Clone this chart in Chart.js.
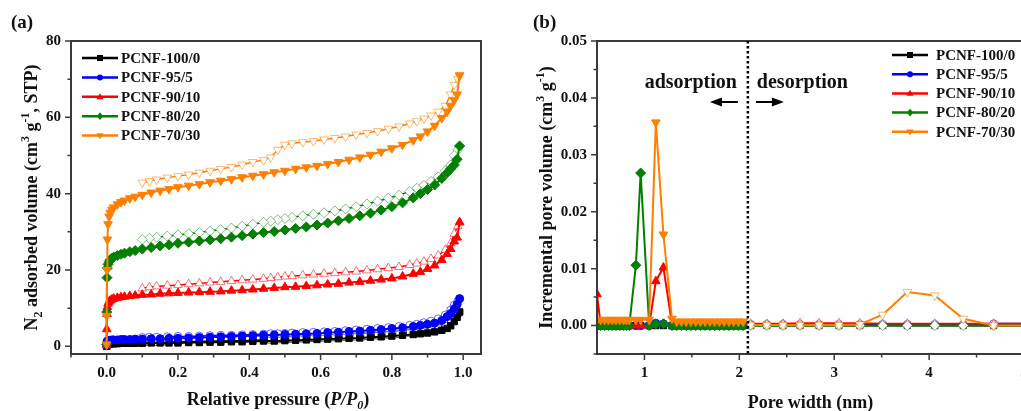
<!DOCTYPE html>
<html>
<head>
<meta charset="utf-8">
<script src="https://cdn.jsdelivr.net/npm/chart.js@4.4.0/dist/chart.umd.min.js"></script>
<style>
  html, body { margin: 0; padding: 0; background: #fff; overflow: hidden; }
  #wrap { position: relative; width: 1021px; height: 411px; overflow: hidden; }
  #ca { position: absolute; left: 0; top: 0; }
  #cb { position: absolute; left: 500px; top: 0; }
</style>
</head>
<body>
<div id="wrap">
  <canvas id="ca" width="500" height="411"></canvas>
  <canvas id="cb" width="540" height="411"></canvas>
</div>
<script>
// sample names / colours
const names = ['PCNF-100/0', 'PCNF-95/5', 'PCNF-90/10', 'PCNF-80/20', 'PCNF-70/30'];
const colors = ['#000000', '#0000ff', '#ff0000', '#008000', '#ff7f00'];
const paleColors = ['rgba(0,0,0,0.7)', 'rgba(0,0,255,0.6)', 'rgba(255,0,0,0.55)', 'rgba(0,128,0,0.5)', 'rgba(255,127,0,0.55)'];
const shapes = ['rect', 'circle', 'triangle', 'rectRot', 'triangle'];
const rotations = [0, 0, 0, 0, 180];
const radii = [4.5, 4, 5, 5, 5];

// (a) N2 isotherms - adsorption branch
const presAds = [0, 0.0003, 0.001, 0.002, 0.004, 0.007, 0.01, 0.015, 0.02, 0.03, 0.04, 0.05, 0.065, 0.08, 0.1, 0.125, 0.15, 0.175, 0.2, 0.23, 0.26, 0.29, 0.32, 0.35, 0.38, 0.41, 0.44, 0.47, 0.5, 0.53, 0.56, 0.59, 0.62, 0.65, 0.68, 0.71, 0.74, 0.77, 0.8, 0.83, 0.86, 0.88, 0.9, 0.92, 0.94, 0.955, 0.965, 0.975, 0.983, 0.99];
const ads100 = [0, 0.2, 0.4, 0.5, 0.6, 0.6, 0.7, 0.7, 0.7, 0.7, 0.8, 0.8, 0.8, 0.8, 0.8, 0.9, 0.9, 0.9, 0.9, 1.0, 1.0, 1.1, 1.1, 1.2, 1.2, 1.3, 1.4, 1.4, 1.5, 1.6, 1.7, 1.8, 1.9, 2.0, 2.1, 2.2, 2.4, 2.5, 2.7, 2.9, 3.1, 3.3, 3.5, 3.8, 4.2, 4.7, 5.4, 6.5, 7.6, 9.0];
const ads95 = [0.2, 0.8, 1.2, 1.4, 1.5, 1.6, 1.6, 1.7, 1.7, 1.7, 1.8, 1.8, 1.8, 1.9, 1.9, 2.0, 2.0, 2.1, 2.1, 2.2, 2.3, 2.4, 2.5, 2.6, 2.7, 2.8, 2.9, 3.0, 3.1, 3.2, 3.3, 3.4, 3.6, 3.7, 3.9, 4.0, 4.2, 4.4, 4.7, 4.9, 5.2, 5.5, 5.8, 6.1, 6.8, 7.8, 8.6, 9.8, 11.0, 12.5];
const ads90 = [0.3, 4.5, 8.5, 10.3, 11.2, 11.7, 12.0, 12.3, 12.5, 12.7, 12.9, 13.0, 13.2, 13.3, 13.5, 13.6, 13.8, 13.9, 14.0, 14.1, 14.2, 14.3, 14.4, 14.6, 14.7, 14.9, 15.1, 15.3, 15.5, 15.6, 15.8, 16.0, 16.2, 16.4, 16.7, 16.9, 17.2, 17.5, 17.8, 18.3, 19.0, 19.5, 20.3, 21.2, 22.6, 24.2, 25.5, 27.5, 28.5, 32.5];
const ads80 = [0.5, 9, 18, 20.5, 21.5, 22.2, 22.7, 23.1, 23.4, 23.8, 24.1, 24.4, 24.8, 25.1, 25.5, 25.9, 26.3, 26.6, 27.0, 27.3, 27.6, 27.9, 28.2, 28.6, 29.0, 29.4, 29.8, 30.1, 30.5, 30.9, 31.3, 31.8, 32.3, 32.9, 33.5, 34.2, 34.9, 35.7, 36.6, 37.6, 38.9, 40.0, 41.1, 42.3, 44.0, 45.5, 46.5, 47.5, 49.0, 52.5];
const ads70 = [0.5, 8, 20, 28, 32, 34, 35, 35.8, 36.4, 37.2, 37.8, 38.2, 38.8, 39.2, 39.7, 40.3, 40.8, 41.2, 41.7, 42.1, 42.5, 43.0, 43.4, 43.8, 44.3, 44.7, 45.1, 45.6, 46.0, 46.5, 46.9, 47.3, 47.8, 48.3, 48.9, 49.5, 50.2, 51.0, 51.9, 52.8, 54.0, 55.0, 56.3, 57.8, 59.8, 61.5, 63.0, 64.5, 66.0, 71.0];

// (a) desorption branch
const presDes = [0.99, 0.985, 0.975, 0.965, 0.95, 0.93, 0.91, 0.89, 0.87, 0.85, 0.82, 0.79, 0.76, 0.73, 0.7, 0.67, 0.64, 0.61, 0.58, 0.55, 0.52, 0.5, 0.48, 0.46, 0.44, 0.41, 0.38, 0.35, 0.32, 0.29, 0.26, 0.23, 0.2, 0.17, 0.14, 0.12, 0.1];
const des100 = [9, 8.5, 7.5, 6.5, 5.5, 4.8, 4.3, 4.0, 3.7, 3.5, 3.2, 3.0, 2.8, 2.6, 2.5, 2.4, 2.3, 2.2, 2.1, 2.0, 1.9, 1.8, 1.8, 1.7, 1.7, 1.6, 1.5, 1.5, 1.4, 1.4, 1.3, 1.3, 1.2, 1.2, 1.1, 1.1, 1.0];
const des95 = [12.5, 11.8, 10.8, 9.5, 8.2, 7.2, 6.6, 6.2, 5.8, 5.5, 5.2, 4.9, 4.7, 4.5, 4.3, 4.1, 3.9, 3.8, 3.7, 3.6, 3.5, 3.4, 3.3, 3.3, 3.2, 3.1, 3.0, 2.9, 2.9, 2.8, 2.7, 2.6, 2.6, 2.5, 2.4, 2.4, 2.3];
const des90 = [32.5, 31.5, 29.5, 27, 25.3, 23.8, 22.9, 22.2, 21.7, 21.3, 20.8, 20.5, 20.2, 19.9, 19.6, 19.4, 19.2, 19, 18.8, 18.6, 18.4, 18.3, 18.1, 17.9, 17.7, 17.5, 17.3, 17.1, 16.9, 16.7, 16.5, 16.3, 16.1, 15.9, 15.7, 15.5, 15.2];
const des80 = [52.5, 51.5, 50, 47.5, 46, 44.4, 43.2, 42.2, 41.4, 40.6, 39.6, 38.8, 38, 37.3, 36.6, 36, 35.5, 35, 34.6, 34.2, 33.8, 33.5, 33.2, 32.8, 32.5, 32, 31.5, 31, 30.6, 30.2, 29.8, 29.5, 29.2, 28.9, 28.6, 28.3, 28];
const des70 = [71, 70, 68.5, 66, 63, 61.5, 60.5, 59.7, 59, 58.4, 57.6, 57, 56.4, 55.9, 55.5, 55, 54.6, 54.2, 53.8, 53.5, 53.2, 52.8, 51.5, 49.5, 48.8, 48.3, 47.6, 47, 46.5, 46, 45.5, 45, 44.6, 44.2, 43.7, 43.3, 42.9];

// (b) pore size distribution - adsorption side
const poreAds = [0.5, 0.54, 0.58, 0.62, 0.66, 0.7, 0.74, 0.78, 0.81, 0.84, 0.91, 0.96, 1.05, 1.12, 1.2, 1.29, 1.34, 1.39, 1.44, 1.49, 1.54, 1.59, 1.64, 1.69, 1.74, 1.79, 1.84, 1.89, 1.94, 1.99, 2.04];
const psd100A = [0, 0, 0, 0, 0, 0, 0, 0, 0, 0, 0, 0, 0, 0, 0, 0, 0, 0, 0, 0, 0, 0, 0, 0, 0, 0, 0, 0, 0, 0, 0];
const psd95A = [0, 0, 0, 0, 0, 0, 0, 0, 0, 0, 0, 0, 0, 0.0004, 0.0003, 0, 0, 0, 0, 0, 0, 0, 0, 0, 0, 0, 0, 0, 0, 0, 0];
const psd90A = [0.0055, 0, 0, 0, 0, 0, 0, 0, 0, 0, 0, 0, 0, 0.0078, 0.0102, 0.0003, 0.0002, 0.0002, 0.0002, 0.0002, 0.0002, 0.0002, 0.0002, 0.0002, 0.0002, 0.0002, 0.0002, 0.0002, 0.0002, 0.0002, 0.0002];
const psd80A = [0, 0, 0, 0, 0, 0, 0, 0, 0, 0, 0.0106, 0.0268, 0, 0.0003, 0.0003, 0, 0, 0, 0, 0, 0, 0, 0, 0, 0, 0, 0, 0, 0, 0, 0];
const psd70A = [0.001, 0.001, 0.001, 0.001, 0.001, 0.001, 0.001, 0.001, 0.001, 0.001, 0.001, 0.001, 0.001, 0.0357, 0.016, 0.0012, 0.0007, 0.0007, 0.0007, 0.0007, 0.0007, 0.0007, 0.0007, 0.0007, 0.0007, 0.0007, 0.0007, 0.0007, 0.0007, 0.0007, 0.0007];

// (b) desorption side
const poreDes = [2.12, 2.29, 2.46, 2.64, 2.84, 3.05, 3.27, 3.51, 3.77, 4.06, 4.36, 4.68, 5.02];
const psd100D = [0, 0, 0, 0, 0, 0, 0, 0, 0, 0, 0, 0, 0];
const psd95D = [0.0002, 0.0002, 0.0002, 0.0002, 0.0002, 0.0002, 0.0002, 0.0002, 0.0002, 0.0002, 0.0002, 0.0003, 0.0003];
const psd90D = [0.0003, 0.0003, 0.0003, 0.0004, 0.0004, 0.0004, 0.0004, 0.0003, 0.0003, 0.0003, 0.0003, 0.0003, 0.0003];
const psd80D = [0, 0, 0, 0, 0, 0, 0, 0, 0, 0, 0, 0, 0];
const psd70D = [0.0001, 0.0001, 0.0001, 0.0001, 0.0001, 0.0001, 0.0002, 0.0019, 0.0059, 0.0053, 0.0012, 0, 0];

// ticks
const xTicksA = [0, 0.2, 0.4, 0.6, 0.8, 1.0];
const xMinorA = [-0.1, 0.1, 0.3, 0.5, 0.7, 0.9];
const yTicksA = [0, 20, 40, 60, 80];
const yMinorA = [10, 30, 50, 70];
const xTicksB = [1, 2, 3, 4, 5];
const xMinorB = [1.5, 2.5, 3.5, 4.5];
const yTicksB = [0, 0.01, 0.02, 0.03, 0.04, 0.05];
const yMinorB = [-0.005, 0.005, 0.015, 0.025, 0.035, 0.045];
const dividerX = 2.09;

const serif = '"Liberation Serif", "Times New Roman", serif';
const fnt = (size, style) => (style || 'bold') + ' ' + size + 'px ' + serif;

function pts(xs, ys) {
  return xs.map((x, i) => ({ x: x, y: ys[i] }));
}

function buildSets(adsX, adsY, desX, desY, desLw) {
  const sets = [];
  for (let i = 0; i < names.length; i++) {
    sets.push({
      label: names[i],
      data: pts(adsX, adsY[i]),
      showLine: true,
      borderColor: colors[i],
      backgroundColor: colors[i],
      borderWidth: 2,
      pointStyle: shapes[i],
      pointRotation: rotations[i],
      pointRadius: radii[i],
      pointBackgroundColor: colors[i],
      pointBorderColor: colors[i],
      pointBorderWidth: 1,
      order: (names.length - i) * 2 - 1
    });
    sets.push({
      label: names[i] + ' des',
      data: pts(desX, desY[i]),
      showLine: true,
      borderColor: colors[i],
      backgroundColor: '#ffffff',
      borderWidth: desLw,
      pointStyle: shapes[i],
      pointRotation: rotations[i],
      pointRadius: radii[i],
      pointBackgroundColor: '#ffffff',
      pointBorderColor: paleColors[i],
      pointBorderWidth: 1,
      order: (names.length - i) * 2
    });
  }
  return sets;
}

function drawMarker(ctx, i, x, y, r) {
  ctx.beginPath();
  const s = shapes[i];
  if (s === 'rect') {
    ctx.rect(x - r, y - r, 2 * r, 2 * r);
  } else if (s === 'circle') {
    ctx.arc(x, y, r, 0, Math.PI * 2);
  } else if (s === 'rectRot') {
    ctx.moveTo(x, y - r * 1.3); ctx.lineTo(x + r * 1.1, y); ctx.lineTo(x, y + r * 1.3); ctx.lineTo(x - r * 1.1, y);
    ctx.closePath();
  } else if (rotations[i] === 180) {
    ctx.moveTo(x - r * 1.2, y - r * 0.8); ctx.lineTo(x + r * 1.2, y - r * 0.8); ctx.lineTo(x, y + r * 1.2);
    ctx.closePath();
  } else {
    ctx.moveTo(x - r * 1.2, y + r * 0.8); ctx.lineTo(x + r * 1.2, y + r * 0.8); ctx.lineTo(x, y - r * 1.2);
    ctx.closePath();
  }
  ctx.fillStyle = colors[i];
  ctx.fill();
}

// rich text: parts = [text, size, style, dy]
function richText(ctx, parts, x, y, rot) {
  ctx.save();
  ctx.translate(x, y);
  ctx.rotate(rot);
  ctx.textAlign = 'left';
  ctx.textBaseline = 'alphabetic';
  ctx.fillStyle = '#111';
  let total = 0;
  parts.forEach(p => { ctx.font = fnt(p[1], p[2]); total += ctx.measureText(p[0]).width; });
  let cx = -total / 2;
  parts.forEach(p => {
    ctx.font = fnt(p[1], p[2]);
    ctx.fillText(p[0], cx, p[3]);
    cx += ctx.measureText(p[0]).width;
  });
  ctx.restore();
}

function decoPlugin(cfg) {
  return {
    id: 'deco',
    afterDraw(chart) {
      const ctx = chart.ctx, a = chart.chartArea;
      const xs = chart.scales.x, ys = chart.scales.y;
      ctx.save();
      // frame
      ctx.strokeStyle = '#3a3a3a';
      ctx.lineWidth = 2;
      ctx.strokeRect(a.left, a.top, a.right - a.left, a.bottom - a.top);
      // tick marks, outward
      ctx.lineWidth = 1.5;
      ctx.beginPath();
      const tx = (vals, len) => vals.forEach(v => {
        const p = xs.getPixelForValue(v);
        ctx.moveTo(p, a.bottom); ctx.lineTo(p, a.bottom + len);
      });
      const ty = (vals, len) => vals.forEach(v => {
        const p = ys.getPixelForValue(v);
        ctx.moveTo(a.left, p); ctx.lineTo(a.left - len, p);
      });
      tx(cfg.xMajor, 6); tx(cfg.xMinor, 3.5);
      ty(cfg.yMajor, 6); ty(cfg.yMinor, 3.5);
      ctx.stroke();

      // panel label
      ctx.fillStyle = '#111';
      ctx.font = fnt(19);
      ctx.textAlign = 'left';
      ctx.textBaseline = 'alphabetic';
      ctx.fillText(cfg.panel[0], cfg.panel[1], cfg.panel[2]);

      // axis titles
      richText(ctx, cfg.xTitle, (a.left + Math.min(a.right, chart.width)) / 2 + cfg.xTitleShift, cfg.xTitleY, 0);
      richText(ctx, cfg.yTitle, cfg.yTitleX, (a.top + a.bottom) / 2, -Math.PI / 2);

      // legend
      const L = cfg.legend;
      for (let i = 0; i < names.length; i++) {
        const y = L.y + i * L.dy;
        ctx.strokeStyle = colors[i];
        ctx.lineWidth = 2.5;
        ctx.beginPath();
        ctx.moveTo(L.x, y); ctx.lineTo(L.x + L.len, y);
        ctx.stroke();
        drawMarker(ctx, i, L.x + L.len / 2, y, 3);
        ctx.fillStyle = '#111';
        ctx.font = fnt(15);
        ctx.textBaseline = 'middle';
        ctx.fillText(names[i], L.x + L.len + L.gap, y + 1);
      }
      if (cfg.extra) cfg.extra(ctx, chart);
      ctx.restore();
    }
  };
}

function axisOpts(min, max, ticks, fmt, isX, size) {
  return {
    type: 'linear',
    min: min,
    max: max,
    afterBuildTicks: s => { s.ticks = ticks.map(v => ({ value: v })); },
    afterFit: s => { if (isX) s.height = size; else s.width = size; },
    grid: { display: false, drawTicks: false },
    border: { display: false },
    ticks: {
      autoSkip: false,
      maxRotation: 0,
      padding: 10,
      color: '#111',
      font: { family: serif, size: 15, weight: 'bold' },
      callback: fmt
    }
  };
}

const baseOpts = {
  responsive: false,
  animation: false,
  events: [],
  plugins: { legend: { display: false }, tooltip: { enabled: false } }
};

// chart (a)
new Chart(document.getElementById('ca'), {
  type: 'scatter',
  data: { datasets: buildSets(presAds, [ads100, ads95, ads90, ads80, ads70], presDes, [des100, des95, des90, des80, des70], 1.5) },
  options: Object.assign({}, baseOpts, {
    layout: { padding: { left: 0, top: 41, right: 19, bottom: 0 } },
    scales: {
      x: axisOpts(-0.1, 1.05, xTicksA, v => v.toFixed(1), true, 57),
      y: axisOpts(-2, 80, yTicksA, v => String(v), false, 71)
    }
  }),
  plugins: [decoPlugin({
    xMajor: xTicksA, xMinor: xMinorA, yMajor: yTicksA, yMinor: yMinorA,
    panel: ['(a)', 11, 28],
    xTitle: [['Relative pressure (', 18], ['P/P', 18, 'italic bold', 0], ['0', 12, 'italic bold', 4], [')', 18]].map(p => [p[0], p[1], p[2] || 'bold', p[3] || 0]),
    xTitleShift: 2, xTitleY: 405,
    yTitle: [['N', 18], ['2', 12, 'bold', 5], [' adsorbed volume (cm', 18], ['3', 12, 'bold', -8], [' g', 18], ['-1', 12, 'bold', -8], [', STP)', 18]].map(p => [p[0], p[1], p[2] || 'bold', p[3] || 0]),
    yTitleX: 37,
    legend: { x: 82, y: 58, dy: 19.4, len: 36, gap: 3 }
  })]
});

// chart (b)
new Chart(document.getElementById('cb'), {
  type: 'scatter',
  data: { datasets: buildSets(poreAds, [psd100A, psd95A, psd90A, psd80A, psd70A], poreDes, [psd100D, psd95D, psd90D, psd80D, psd70D], 2) },
  options: Object.assign({}, baseOpts, {
    layout: { padding: { left: 0, top: 41, right: 16, bottom: 0 } },
    scales: {
      x: axisOpts(0.5, 5, xTicksB, v => String(v), true, 57),
      y: axisOpts(-0.005, 0.05, yTicksB, v => v.toFixed(2), false, 97)
    }
  }),
  plugins: [decoPlugin({
    xMajor: xTicksB, xMinor: xMinorB, yMajor: yTicksB, yMinor: yMinorB,
    panel: ['(b)', 33, 28],
    xTitle: [['Pore width (nm)', 18, 'bold', 0]],
    xTitleShift: 0, xTitleY: 408,
    yTitle: [['Incremental pore volume (cm', 18], ['3', 12, 'bold', -8], [' g', 18], ['-1', 12, 'bold', -8], [')', 18]].map(p => [p[0], p[1], p[2] || 'bold', p[3] || 0]),
    yTitleX: 52,
    legend: { x: 392, y: 55, dy: 19.2, len: 36, gap: 8 },
    extra: (ctx, chart) => {
      const a = chart.chartArea;
      const px = chart.scales.x.getPixelForValue(dividerX);
      ctx.strokeStyle = '#000';
      ctx.lineWidth = 2.5;
      ctx.setLineDash([2.5, 2.5]);
      ctx.beginPath();
      ctx.moveTo(px, a.top); ctx.lineTo(px, a.bottom);
      ctx.stroke();
      ctx.setLineDash([]);
      ctx.fillStyle = '#111';
      ctx.font = fnt(20);
      ctx.textBaseline = 'alphabetic';
      ctx.textAlign = 'right';
      ctx.fillText('adsorption', px - 11, 88);
      ctx.textAlign = 'left';
      ctx.fillText('desorption', px + 9, 88);
      // arrows
      const arrow = (x0, x1, y) => {
        const dir = Math.sign(x1 - x0);
        ctx.lineWidth = 2;
        ctx.strokeStyle = '#000';
        ctx.beginPath();
        ctx.moveTo(x0, y); ctx.lineTo(x1 - dir * 8, y);
        ctx.stroke();
        ctx.beginPath();
        ctx.moveTo(x1, y); ctx.lineTo(x1 - dir * 12, y - 4.5); ctx.lineTo(x1 - dir * 12, y + 4.5);
        ctx.closePath();
        ctx.fillStyle = '#000';
        ctx.fill();
      };
      arrow(px - 10, px - 38, 102);
      arrow(px + 8, px + 36, 102);
    }
  })]
});
</script>
</body>
</html>
